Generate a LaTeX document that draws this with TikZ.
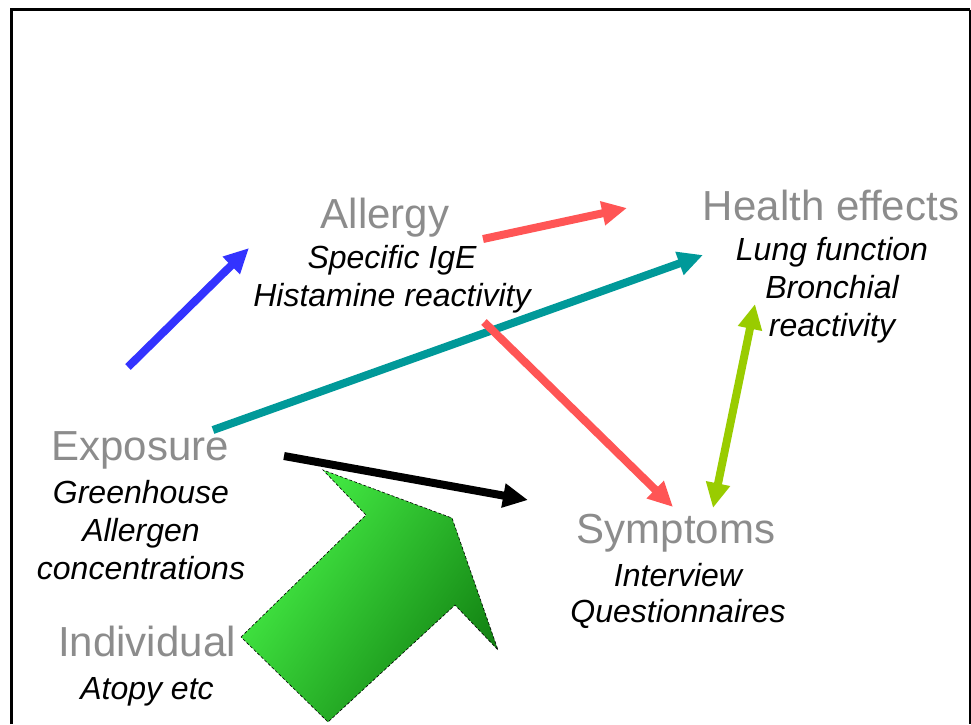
\documentclass[tikz,border=0pt]{standalone}
\usepackage{fontspec}
\setmainfont{Liberation Sans}
\usetikzlibrary{arrows.meta}
\definecolor{titlegray}{HTML}{8C8C8C}
\definecolor{arrblue}{HTML}{3333FF}
\definecolor{arrred}{HTML}{FF5555}
\definecolor{arrteal}{HTML}{009999}
\definecolor{arrlime}{HTML}{99CC00}
\definecolor{greenlight}{HTML}{48F448}
\definecolor{greenmid}{HTML}{36D236}
\definecolor{greendark}{HTML}{128212}
\tikzset{
  title/.style={font=\fontsize{42}{42}\selectfont, text=titlegray, anchor=base, inner sep=0pt},
  sub/.style={font=\fontsize{32}{32}\selectfont\itshape, text=black, anchor=base, inner sep=0pt},
  arr/.style={line width=8pt, -{Triangle[length=25pt,width=23pt]}},
  dblarr/.style={line width=8pt, {Triangle[length=25pt,width=23pt]}-{Triangle[length=25pt,width=23pt]}},
}
\begin{document}
\begin{tikzpicture}[x=1pt,y=-1pt]
\useasboundingbox (0,0) rectangle (971,724);
% frame
\draw[line width=3pt] (11,724) -- (11,9.5) -- (970,9.5);
\draw[line width=1.2pt] (970,9.5) -- (970,724);
% texts
\node[title] (allergy) at (385,228) {Allergy};
\node[sub] (ige) at (392,268) {Specific IgE};
\node[sub] (hist) at (392,306) {Histamine reactivity};
\node[title] (health) at (831,220) {Health effects};
\node[sub] (lung) at (832,260) {Lung function};
\node[sub] (bron) at (832,298) {Bronchial};
\node[sub] (react) at (832,336) {reactivity};
\node[title] (expo) at (140,460) {Exposure};
\node[sub] (green) at (141,503) {Greenhouse};
\node[sub] (allerg) at (141,541) {Allergen};
\node[sub] (conc) at (141,579) {concentrations};
\node[title] (sympt) at (676,543) {Symptoms};
\node[sub] (inter) at (678,586) {Interview};
\node[sub] (quest) at (678,622) {Questionnaires};
\node[title] (indiv) at (147,656) {Individual};
\node[sub] (atopy) at (147,699) {Atopy etc};
% arrow end points
\coordinate (b1) at (128,367); \coordinate (b2) at (249,248);
\coordinate (r1) at (483,239); \coordinate (r2) at (627,208);
\coordinate (t1) at (213,430); \coordinate (t2) at (703,255);
\coordinate (s1) at (484,322); \coordinate (s2) at (673,507);
\coordinate (k1) at (284,456); \coordinate (k2) at (528,500);
\coordinate (l1) at (755,304); \coordinate (l2) at (713,508);
\draw[arr, arrblue] (b1) -- (b2);
\draw[arr, arrred] (r1) -- (r2);
\draw[arr, arrteal] (t1) -- (t2);
\draw[arr, arrred] (s1) -- (s2);
\draw[arr, black] (k1) -- (k2);
\draw[dblarr, arrlime] (l1) -- (l2);
% big green arrow
\shade[shading=axis, top color=greenlight, middle color=greenmid, bottom color=greendark, shading angle=55]
  (241,637) -- (366,515) -- (323,470) -- (452,518) -- (498,650) -- (455,605) -- (328,722) -- cycle;
\draw[line width=0.6pt, densely dashed] (241,637) -- (366,515) -- (323,470) -- (452,518) -- (498,650) -- (455,605) -- (328,722) -- cycle;
\end{tikzpicture}
\end{document}
